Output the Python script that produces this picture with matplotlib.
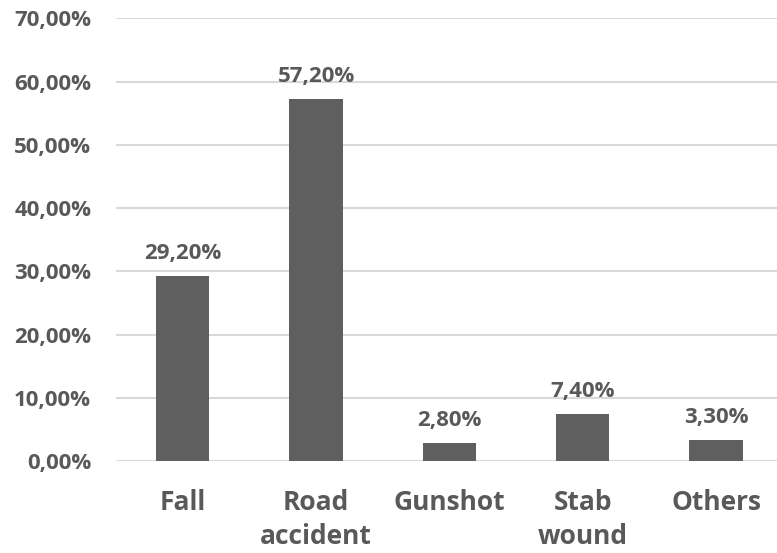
import matplotlib.pyplot as plt
from matplotlib.ticker import FuncFormatter

plt.rcParams['font.family'] = 'Open Sans'
plt.rcParams['font.weight'] = 'bold'

categories = ['Fall', 'Road\naccident', 'Gunshot', 'Stab\nwound', 'Others']
values = [29.2, 57.2, 2.8, 7.4, 3.3]
y_ticks = [0, 10, 20, 30, 40, 50, 60, 70]

text_color = '#595959'
bar_color = '#5f5f5f'

fig = plt.figure(figsize=(7.77, 5.53), dpi=100)
ax = fig.add_axes([0.1495, 0.166, 0.858, 0.801])

x = range(len(categories))
bars = ax.bar(x, values, width=0.4, color=bar_color, zorder=3)

for b, v in zip(bars, values):
    ax.annotate(f'{v:.2f}%'.replace('.', ','),
                (b.get_x() + b.get_width() / 2, v),
                xytext=(0, 9), textcoords='offset points',
                ha='center', va='bottom', fontsize=16,
                color=text_color, fontweight='bold')

ax.set_xlim(-0.5, len(categories) - 0.5)
ax.set_ylim(0, 70)
ax.set_yticks(y_ticks)
ax.yaxis.set_major_formatter(FuncFormatter(lambda v, p: f'{v:.2f}%'.replace('.', ',')))
ax.set_xticks(list(x))
ax.set_xticklabels(categories, linespacing=1.35)

ax.grid(axis='y', color='#d9d9d9', linewidth=1.5, zorder=0)
for s in ['top', 'right', 'left', 'bottom']:
    ax.spines[s].set_visible(False)
ax.tick_params(axis='both', length=0, colors=text_color)
ax.tick_params(axis='y', labelsize=16, pad=18)
ax.tick_params(axis='x', labelsize=19, pad=20)
for lbl in ax.get_xticklabels() + ax.get_yticklabels():
    lbl.set_fontweight('bold')

fig.savefig('out.png', dpi=100)
